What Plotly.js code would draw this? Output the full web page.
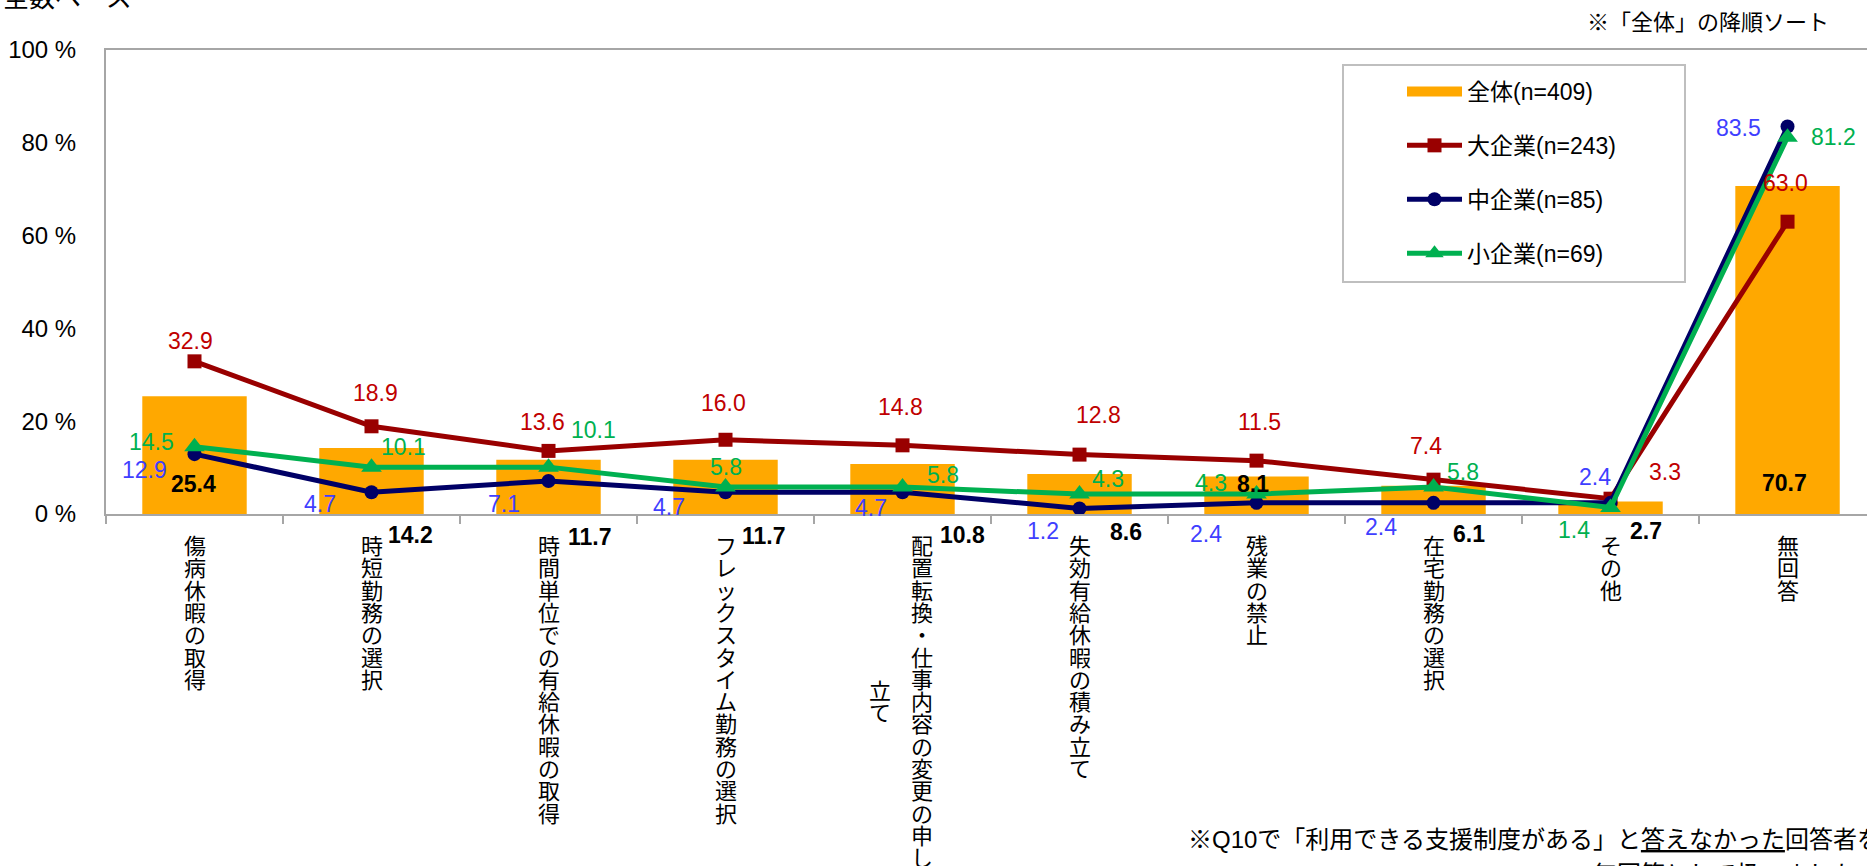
<!DOCTYPE html>
<html><head><meta charset="utf-8">
<script src="https://cdn.plot.ly/plotly-3.0.1.min.js"></script>
<style>html,body{margin:0;padding:0;background:#fff;overflow:hidden}#chart{width:1867px;height:866px}</style>
</head><body><div id="chart"></div>
<script>
// ---- data ----
const categories = ['傷病休暇の取得','時短勤務の選択','時間単位での有給休暇の取得','フレックスタイム勤務の選択','配置転換・仕事内容の変更の申し立て','失効有給休暇の積み立て','残業の禁止','在宅勤務の選択','その他','無回答'];
const seriesNames = ['全体(n=409)','大企業(n=243)','中企業(n=85)','小企業(n=69)'];
const totalValues  = [25.4,14.2,11.7,11.7,10.8,8.6,8.1,6.1,2.7,70.7];
const largeValues  = [32.9,18.9,13.6,16.0,14.8,12.8,11.5,7.4,3.3,63.0];
const mediumValues = [12.9,4.7,7.1,4.7,4.7,1.2,2.4,2.4,2.4,83.5];
const smallValues  = [14.5,10.1,10.1,5.8,5.8,4.3,4.3,5.8,1.4,81.2];
const yTickValues = [0,20,40,60,80,100];
const yTickLabels = ['0 %','20 %','40 %','60 %','80 %','100 %'];
const titleText = '全数ベース';
const sortNote = '※「全体」の降順ソート';
const footLine1 = '※Q10で「利用できる支援制度がある」と<span style="text-decoration:underline">答えなかった</span>回答者を';
const footLine2 = '無回答として扱いました。';

// ---- label placement (pixel offsets from each point: right, down) ----
const totalLabelOffsets  = [[-1,88],[39,87],[41,77],[38,76],[60,71],[46,58],[-4,8],[35,48],[35,30],[-3,297]];
const largeLabelOffsets  = [[-4,-20],[4,-33],[-6,-29],[-2,-37],[-2,-38],[19,-40],[3,-39],[-8,-34],[54,-27],[-2,-39]];
const mediumLabelOffsets = [[-50,16],[-52,12],[-45,23],[-57,15],[-32,16],[-37,23],[-51,31],[-53,24],[-16,-26],[-49,1]];
const smallLabelOffsets  = [[-43,-5],[32,-20],[45,-37],[0,-20],[40,-12],[28,-15],[-46,-11],[29,-15],[-37,22],[46,0]];

// ---- styles ----
const LATIN = 'Liberation Sans, Arial, Noto Sans CJK JP, sans-serif';
const CJK = 'Noto Sans CJK JP, Liberation Sans, sans-serif';
const L = 106, T = 50, W = 1761, H = 464;
const px2x = p => (p - L) / W;
const py2y = p => (T + H - p) / H;
const BAR_COLOR = '#FFA800';

const traces = [
  {type:'bar', name:seriesNames[0], x:categories, y:totalValues, width:0.59,
   marker:{color:BAR_COLOR, line:{width:0}}, legendgroup:'g0', showlegend:false, hoverinfo:'skip'},
  // legend swatch for the bar series (wide rectangle as in the original legend)
  {type:'scatter', mode:'lines', name:seriesNames[0], x:[null], y:[null],
   line:{color:BAR_COLOR, width:17}, legendgroup:'g0', hoverinfo:'skip'},
  {type:'scatter', mode:'lines+markers', name:seriesNames[1], x:categories, y:largeValues,
   line:{color:'#990000', width:5}, marker:{symbol:'square', size:14, color:'#990000'}, legendgroup:'g1', hoverinfo:'skip'},
  {type:'scatter', mode:'lines+markers', name:seriesNames[2], x:categories, y:mediumValues,
   line:{color:'#000066', width:5}, marker:{symbol:'circle', size:14, color:'#000066'}, legendgroup:'g2', hoverinfo:'skip'},
  {type:'scatter', mode:'lines+markers', name:seriesNames[3], x:categories, y:smallValues,
   line:{color:'#00B050', width:5}, marker:{symbol:'triangle-up', size:18, color:'#00B050'}, legendgroup:'g3', hoverinfo:'skip'}
];

const annotations = [];
function addLabels(values, offsets, color, bold) {
  values.forEach((v, i) => {
    annotations.push({xref:'x', yref:'y', x:i, y:v, text: bold ? '<b>'+v.toFixed(1)+'</b>' : v.toFixed(1),
      showarrow:false, xanchor:'center', yanchor:'middle',
      xshift: offsets[i][0], yshift: -offsets[i][1],
      font:{family:LATIN, size:23, color:color}});
  });
}
addLabels(largeValues, largeLabelOffsets, '#C00000', false);
addLabels(mediumValues, mediumLabelOffsets, '#3F3FFF', false);
addLabels(smallValues, smallLabelOffsets, '#00B050', false);
addLabels(totalValues, totalLabelOffsets, '#000000', true);

// vertical (tategaki) category labels: one annotation per column, one character per line
const COLMAX = 15, PITCH = 22.3, TOP = 12, COLGAP = 42, CHAR = 22;
categories.forEach((cat, i) => {
  const chars = Array.from(cat);
  const cols = [];
  for (let k = 0; k < chars.length; k += COLMAX) cols.push(chars.slice(k, k + COLMAX));
  const n = cols.length;
  const mainLen = cols[0].length;
  cols.forEach((col, c) => {
    const xs = ((n - 1) / 2 - c) * COLGAP - 2 * (n - 1);
    const top = TOP + (mainLen - col.length) / 2 * PITCH;
    const text = col.map(ch => '<span style="font-size:' + CHAR + 'px">' + ch + '</span>').join('<br>');
    annotations.push({xref:'x', yref:'paper', x:i, y:0, text:text, showarrow:false,
      xanchor:'center', yanchor:'top', xshift:xs, yshift:-top,
      font:{family:CJK, size:PITCH / 1.3, color:'#000'}});
  });
});

annotations.push({xref:'paper', yref:'paper', x:px2x(1), y:py2y(-4), text:titleText, showarrow:false,
  xanchor:'left', yanchor:'middle', font:{family:CJK, size:26, color:'#000'}});
annotations.push({xref:'paper', yref:'paper', x:px2x(1831), y:py2y(22), text:sortNote, showarrow:false,
  xanchor:'right', yanchor:'middle', font:{family:LATIN, size:22, color:'#000'}});
annotations.push({xref:'paper', yref:'paper', x:px2x(1186), y:py2y(839), text:footLine1, showarrow:false,
  xanchor:'left', yanchor:'middle', font:{family:LATIN, size:24, color:'#000'}});
annotations.push({xref:'paper', yref:'paper', x:px2x(1591), y:py2y(874), text:footLine2, showarrow:false,
  xanchor:'left', yanchor:'middle', font:{family:LATIN, size:24, color:'#000'}});

const layout = {
  width:1867, height:866,
  margin:{l:L, r:1867 - L - W, t:T, b:866 - T - H, pad:0},
  paper_bgcolor:'#fff', plot_bgcolor:'#fff',
  showlegend:true,
  legend:{x:px2x(1402), xanchor:'left', y:py2y(70), yanchor:'top', bgcolor:'rgba(0,0,0,0)',
    borderwidth:0, font:{family:LATIN, size:23, color:'#000'}, itemwidth:55,
    tracegroupgap:21, traceorder:'grouped'},
  xaxis:{type:'category', range:[-0.5, 9.449], showline:true, mirror:true, linecolor:'#A6A6A6', linewidth:2,
    ticks:'outside', tickson:'boundaries', ticklen:8, tickcolor:'#A6A6A6', tickwidth:2,
    showticklabels:false, showgrid:false, zeroline:false, fixedrange:true},
  yaxis:{range:[0,100], tickvals:yTickValues, ticktext:yTickLabels, ticks:'', showline:true,
    linecolor:'#A6A6A6', linewidth:2, showgrid:false, zeroline:false, fixedrange:true,
    tickfont:{family:LATIN, size:24, color:'#000'}, ticklabelstandoff:23},
  shapes:[{type:'rect', xref:'paper', yref:'paper', x0:px2x(1343), x1:px2x(1685), y0:py2y(282), y1:py2y(65),
    line:{color:'#BFBFBF', width:2}, fillcolor:'rgba(0,0,0,0)', layer:'above'}],
  annotations:annotations
};

Plotly.newPlot('chart', traces, layout, {displayModeBar:false, staticPlot:true});
</script></body></html>
